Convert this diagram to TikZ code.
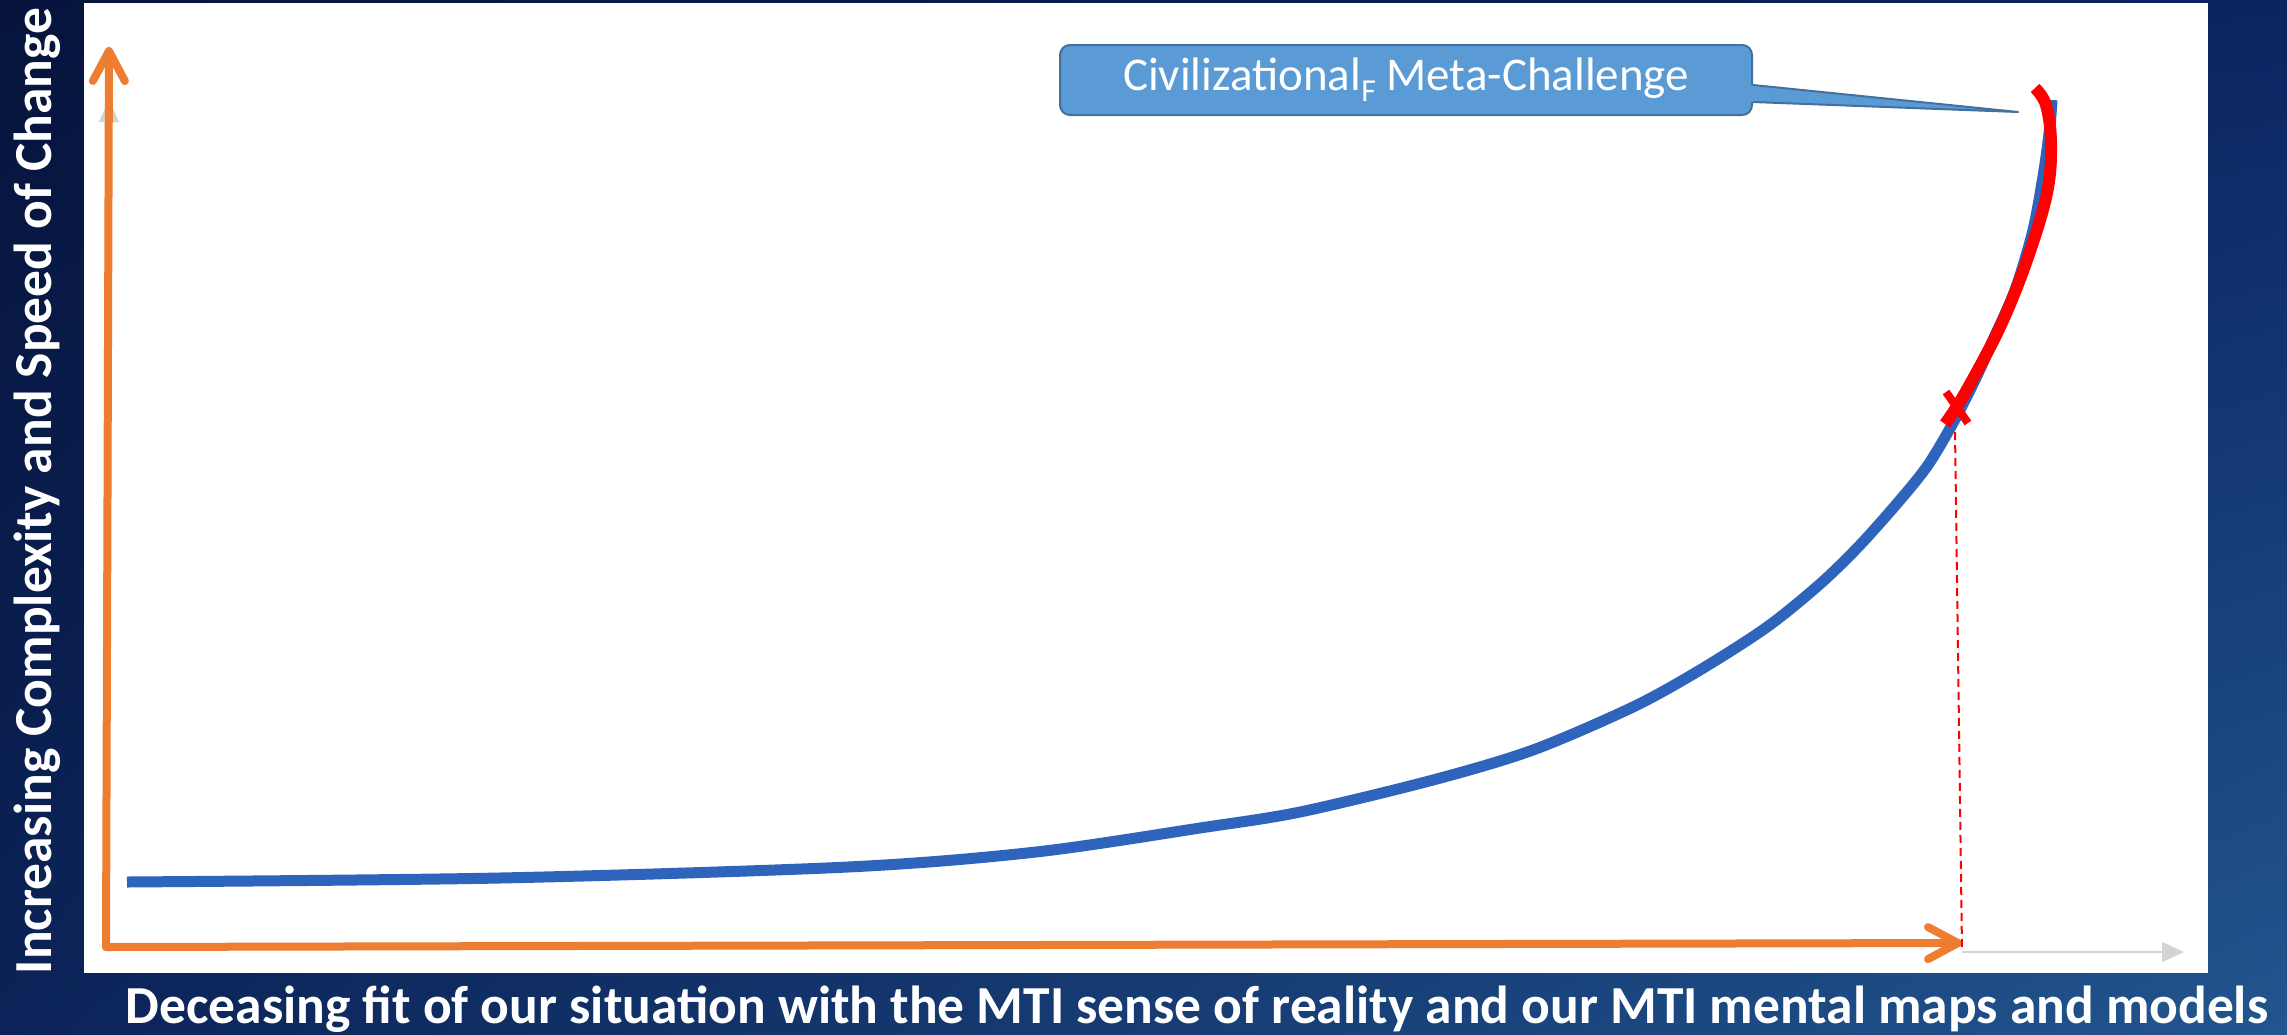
\documentclass[tikz,border=0pt]{standalone}
\usepackage{fontspec}
\setmainfont{Carlito}
\usetikzlibrary{arrows.meta,calc,shadings}
\definecolor{bgUL}{HTML}{06143C}
\definecolor{bgUR}{HTML}{0A2460}
\definecolor{bgLL}{HTML}{0B2358}
\definecolor{bgLR}{HTML}{22558F}
\definecolor{axisorange}{HTML}{ED7D31}
\definecolor{curveblue}{HTML}{2F64BC}
\definecolor{calloutfill}{HTML}{5B9BD5}
\definecolor{calloutborder}{HTML}{41719C}
\definecolor{faintgray}{HTML}{D4D4D4}
\begin{document}
\begin{tikzpicture}[x=1pt,y=-1pt,
  axisline/.style={draw=axisorange,line width=8pt,line cap=round,
     -{Straight Barb[length=30pt,width=32pt,round]}},
  faintaxis/.style={draw=faintgray,line width=2pt,-{Triangle[length=22pt,width=20pt]}},
  bluecurve/.style={draw=curveblue,line width=11pt},
  redcurve/.style={draw=red,line width=12pt},
  calloutbox/.style={fill=calloutfill,draw=calloutborder,line width=2pt,
     rounded corners=10pt,minimum width=692pt,minimum height=70pt,
     inner sep=0pt,text=white,font=\fontsize{47}{54}\selectfont},
  axislabel/.style={text=white,font=\bfseries\fontsize{53.5}{60}\selectfont,inner sep=0pt}]
\useasboundingbox (0,0) rectangle (2287,1034);
\shade[upper left=bgUL,upper right=bgUR,lower left=bgLL,lower right=bgLR] (0,0) rectangle (2287,1034);
\fill[white] (84,3) rectangle (2208,973);

% faint original axes
\coordinate (fy) at (109,100);
\coordinate (fx) at (2184,952);
\draw[faintaxis] ($(fy)+(0,40)$) -- (fy);
\draw[faintaxis] (1962,952) -- (fx);

% orange axes
\coordinate (o) at (106,947);
\coordinate (ytip) at (109,47);
\coordinate (xtip) at (1962,943);
\draw[axisline] (o) -- (ytip);
\draw[axisline] (o) -- (xtip);

% blue curve
\draw[bluecurve] plot[smooth,tension=0.5] coordinates {
 (127,882) (500,878) (848,867) (1036,852) (1200,828) (1300,812) (1433,780)
 (1533,750) (1633,707) (1700,670) (1767,627) (1820,584) (1860,545) (1900,500)
 (1928,465) (1953,423) (1975,380) (1993,340) (2015,290) (2033,230) (2044,170) (2050,125) (2052,100)};

% red curve
\coordinate (rtop) at (2035,88);
\coordinate (rend) at (1945,424);
\draw[redcurve] plot[smooth,tension=0.6] coordinates {
 (rtop) (2046,105) (2051,143) (2047,193) (2027,260) (2000,327) (1965,393) (rend)};
\draw[red,line width=8pt] (1946,392) -- (1968,423);

% dashed marker
\coordinate (mtop) at (1955,432);
\coordinate (mbot) at (1962,950);
\draw[red,line width=2pt,dash pattern=on 8pt off 5pt] (mtop) -- (mbot);

% callout
\node[calloutbox] (cm) at (1406,80) {Civilizational\raisebox{-11pt}{\fontsize{32}{32}\selectfont F} Meta-Challenge};
\coordinate (ctip) at (2018,112);
\fill[calloutfill] ($(cm.east)+(-3,5)$) -- (ctip) -- ($(cm.east)+(-3,22)$) -- cycle;
\draw[calloutborder,line width=2pt,line join=round] ($(cm.east)+(0,5)$) -- (ctip) -- ($(cm.east)+(0,22)$);

% labels
\node[axislabel,rotate=90,anchor=base] (ylab) at (51,491) {Increasing Complexity and Speed of Change};
\node[axislabel,anchor=base] (xlab) at (1197,1023) {Deceasing fit of our situation with the MTI sense of reality and our MTI mental maps and models};
\end{tikzpicture}
\end{document}
